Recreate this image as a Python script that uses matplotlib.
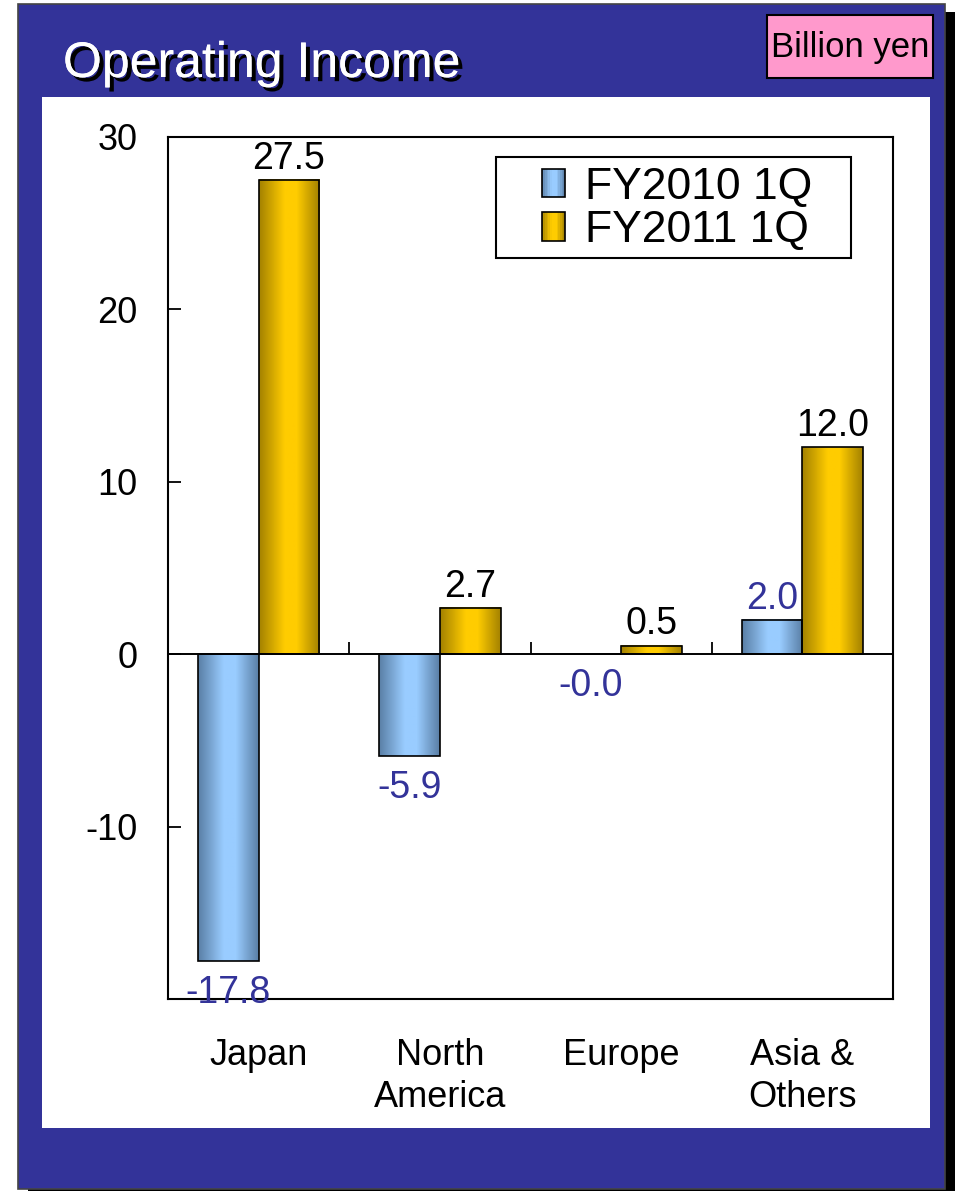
import numpy as np
import matplotlib
matplotlib.use("Agg")
import matplotlib.pyplot as plt
import matplotlib.patheffects as pe
from matplotlib.colors import LinearSegmentedColormap
from matplotlib.patches import Rectangle
from matplotlib.legend_handler import HandlerBase

regions = ["Japan", "North\nAmerica", "Europe", "Asia &\nOthers"]
fy2010 = [-17.8, -5.9, -0.0, 2.0]
fy2011 = [27.5, 2.7, 0.5, 12.0]
series_names = ["FY2010 1Q", "FY2011 1Q"]
yticks = [-10, 0, 10, 20, 30]

NAVY = "#333399"
W, H = 955, 1191

blue_cmap = LinearSegmentedColormap.from_list(
    "blue", [(0, "#5a7fa6"), (0.42, "#99ccff"), (0.62, "#99ccff"), (1, "#5a7fa6")])
gold_cmap = LinearSegmentedColormap.from_list(
    "gold", [(0, "#a48200"), (0.42, "#ffcc00"), (0.62, "#ffcc00"), (1, "#a48200")])

plt.rcParams["font.family"] = ["Liberation Sans", "DejaVu Sans"]


def fig_rect(x0, y0, x1, y1, **kw):
    # pixel box (top-left origin) -> figure fraction rectangle
    return Rectangle((x0 / W, 1 - y1 / H), (x1 - x0) / W, (y1 - y0) / H,
                     transform=fig.transFigure, **kw)


class GradientHandler(HandlerBase):
    def __init__(self, cmap):
        super().__init__()
        self.cmap = cmap

    def create_artists(self, legend, orig_handle, xdescent, ydescent,
                       width, height, fontsize, trans):
        n = 14
        arts = []
        for i in range(n):
            arts.append(Rectangle((-xdescent + i * width / n, -ydescent), width / n, height,
                                  facecolor=self.cmap((i + 0.5) / n), lw=0, transform=trans))
        arts.append(Rectangle((-xdescent, -ydescent), width, height, fill=False,
                              edgecolor="black", lw=1.2, transform=trans))
        return arts


def gradient_bars(ax, x, vals, cmap):
    bars = ax.bar(x, vals, width, facecolor="none", edgecolor="black", lw=1.2, zorder=3)
    grad = np.linspace(0, 1, 64).reshape(1, -1)
    for b in bars:
        x0, y0, w, h = b.get_x(), b.get_y(), b.get_width(), b.get_height()
        if h == 0:
            continue
        ax.imshow(grad, cmap=cmap, aspect="auto", interpolation="bilinear",
                  extent=(x0, x0 + w, min(y0, y0 + h), max(y0, y0 + h)), zorder=2)
    return bars


fig = plt.figure(figsize=(W / 100, H / 100), dpi=100)
fig.add_artist(fig_rect(28, 12, 960, 1200, facecolor="black", lw=0, zorder=-5))
fig.add_artist(fig_rect(18, 4, 945, 1189, facecolor=NAVY, edgecolor="#444444", lw=1.2, zorder=-4))
fig.add_artist(fig_rect(42, 97, 930, 1128, facecolor="white", lw=0, zorder=-3))
fig.add_artist(fig_rect(767, 15, 933, 78, facecolor="#ff99cc", edgecolor="black", lw=1.5, zorder=-2))

fig.text(63 / W, 1 - 77 / H, "Operating Income", color="white", fontsize=36, va="baseline",
         path_effects=[pe.withSimplePatchShadow(offset=(3, -3), shadow_rgbFace="black", alpha=1),
                       pe.Normal()])
fig.text(850 / W, 1 - 48 / H, "Billion yen", color="black", fontsize=25, ha="center", va="center")

ax = fig.add_axes([168 / W, 1 - 999 / H, (893 - 168) / W, (999 - 137) / H])
x = np.arange(len(regions))
width = 0.335

b1 = gradient_bars(ax, x - width / 2, fy2010, blue_cmap)
b2 = gradient_bars(ax, x + width / 2, fy2011, gold_cmap)

for b, v in zip(b1, fy2010):
    neg = np.signbit(v)
    y = min(b.get_y(), b.get_y() + b.get_height()) if neg else b.get_y() + b.get_height()
    ax.annotate(f"{v:.1f}", (b.get_x() + b.get_width() / 2, y),
                xytext=(0, -30 if neg else 8), textcoords="offset points", ha="center", va="baseline",
                color=NAVY, fontsize=27, zorder=5, annotation_clip=False)
for b, v in zip(b2, fy2011):
    ax.annotate(f"{v:.1f}", (b.get_x() + b.get_width() / 2, b.get_y() + b.get_height()),
                xytext=(0, 8), textcoords="offset points", ha="center", va="baseline",
                color="black", fontsize=27, zorder=5, annotation_clip=False)

ax.axhline(0, color="black", lw=1.4, zorder=4)
ax.vlines(x[:-1] + 0.5, 0, 0.7, color="black", lw=1.3, zorder=4)

ax.set_xlim(-0.5, len(regions) - 0.5)
ax.set_ylim(-20, 30)
ax.set_yticks(yticks)
ax.set_yticklabels([str(t) for t in yticks])
ax.tick_params(axis="y", direction="in", length=9, width=1.3, labelsize=26, pad=22)
ax.set_xticks(x)
ax.set_xticklabels(regions, fontsize=26, linespacing=1.25)
ax.tick_params(axis="x", length=0, pad=28)
for s in ax.spines.values():
    s.set_linewidth(1.5)
    s.set_color("black")

handles = [Rectangle((0, 0), 1, 1), Rectangle((0, 0), 1, 1)]
leg = fig.legend(handles, series_names, loc="center", bbox_to_anchor=(677 / W, 1 - 209 / H),
                 frameon=False, fontsize=32, handlelength=0.52, handleheight=0.6,
                 handletextpad=0.45, labelspacing=0.05,
                 handler_map={handles[0]: GradientHandler(blue_cmap),
                              handles[1]: GradientHandler(gold_cmap)})
fig.add_artist(fig_rect(496, 157, 851, 258, fill=False, edgecolor="black", lw=1.5, zorder=3))

fig.savefig("out.png", dpi=100)
